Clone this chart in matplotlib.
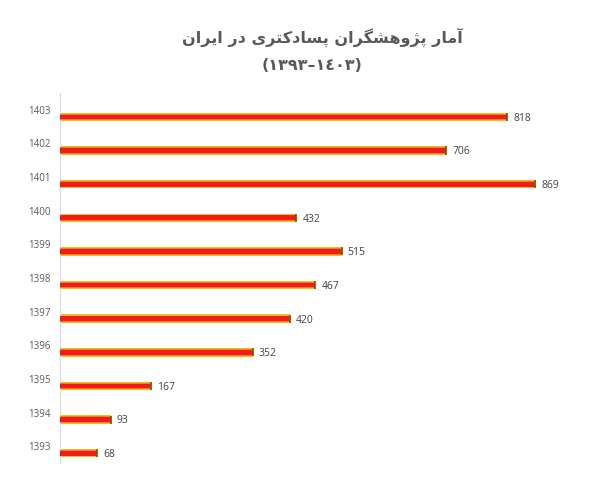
import numpy as np
import matplotlib.pyplot as plt

# data
years = ['1393', '1394', '1395', '1396', '1397', '1398', '1399', '1400', '1401', '1402', '1403']
researchers = [68, 93, 167, 352, 420, 467, 515, 432, 869, 706, 818]

title_line1 = 'آمار پژوهشگران پسادکتری در ایران'
title_line2 = '(١٣٩٣–١٤٠٣)'

# minimal persian shaping: isolated, final, initial, medial
forms = {
    'آ': ('\uFE81', '\uFE82', None, None),
    'ا': ('\uFE8D', '\uFE8E', None, None),
    'د': ('\uFEA9', '\uFEAA', None, None),
    'ر': ('\uFEAD', '\uFEAE', None, None),
    'ژ': ('\uFB8A', '\uFB8B', None, None),
    'و': ('\uFEED', '\uFEEE', None, None),
    'م': ('\uFEE1', '\uFEE2', '\uFEE3', '\uFEE4'),
    'پ': ('\uFB56', '\uFB57', '\uFB58', '\uFB59'),
    'ه': ('\uFEE9', '\uFEEA', '\uFEEB', '\uFEEC'),
    'ش': ('\uFEB5', '\uFEB6', '\uFEB7', '\uFEB8'),
    'گ': ('\uFB92', '\uFB93', '\uFB94', '\uFB95'),
    'ن': ('\uFEE5', '\uFEE6', '\uFEE7', '\uFEE8'),
    'س': ('\uFEB1', '\uFEB2', '\uFEB3', '\uFEB4'),
    'ک': ('\uFB8E', '\uFB8F', '\uFB90', '\uFB91'),
    'ت': ('\uFE95', '\uFE96', '\uFE97', '\uFE98'),
    'ی': ('\uFBFC', '\uFBFD', '\uFBFE', '\uFBFF'),
}


def shape(text):
    out = []
    for i, c in enumerate(text):
        if c not in forms:
            out.append(c)
            continue
        prev = text[i - 1] if i > 0 else ''
        nxt = text[i + 1] if i < len(text) - 1 else ''
        join_prev = prev in forms and forms[prev][2] is not None
        join_next = forms[c][2] is not None and nxt in forms
        if join_prev and join_next:
            out.append(forms[c][3])
        elif join_prev:
            out.append(forms[c][1])
        elif join_next:
            out.append(forms[c][2])
        else:
            out.append(forms[c][0])
    return ''.join(out)[::-1]


y = np.arange(len(years))
fig = plt.figure(figsize=(6.07, 4.78), dpi=100)
ax = fig.add_axes([60 / 607, 1 - 463 / 478, 1 - 60 / 607, 370 / 478])

yb = y - 0.21
ax.barh(yb, researchers, height=0.25, color='#e8c21a', zorder=2)
ax.barh(yb, researchers, height=0.19, color='#f5801f', zorder=3)
ax.barh(yb, researchers, height=0.14, color='#f21b1b', zorder=4)
ax.vlines(researchers, yb - 0.12, yb + 0.12, color='#7a5c00', lw=1.3, zorder=5)

for yy, v in zip(yb, researchers):
    ax.text(v + 11, yy - 0.04, str(v), ha='left', va='center', fontsize=7.5,
            color='#404040', family='Open Sans')

ax.set_xlim(0, 1000)
ax.set_ylim(-0.5, len(years) - 0.5)
ax.set_yticks(y)
ax.set_yticklabels(years, fontsize=7, color='#595959', family='Open Sans')
ax.set_xticks([])
ax.tick_params(axis='y', length=0, pad=7)
for s in ['top', 'right', 'bottom']:
    ax.spines[s].set_visible(False)
ax.spines['left'].set_color('#d9d9d9')

fig.text(322 / 607, 1 - 37 / 478, shape(title_line1), ha='center', va='center',
         fontsize=11.5, fontweight='bold', color='#595959', family='DejaVu Sans')
fig.text(312 / 607, 1 - 66 / 478, title_line2, ha='center', va='center',
         fontsize=11.5, fontweight='bold', color='#595959', family='DejaVu Sans')

fig.savefig('out.png', dpi=100)
